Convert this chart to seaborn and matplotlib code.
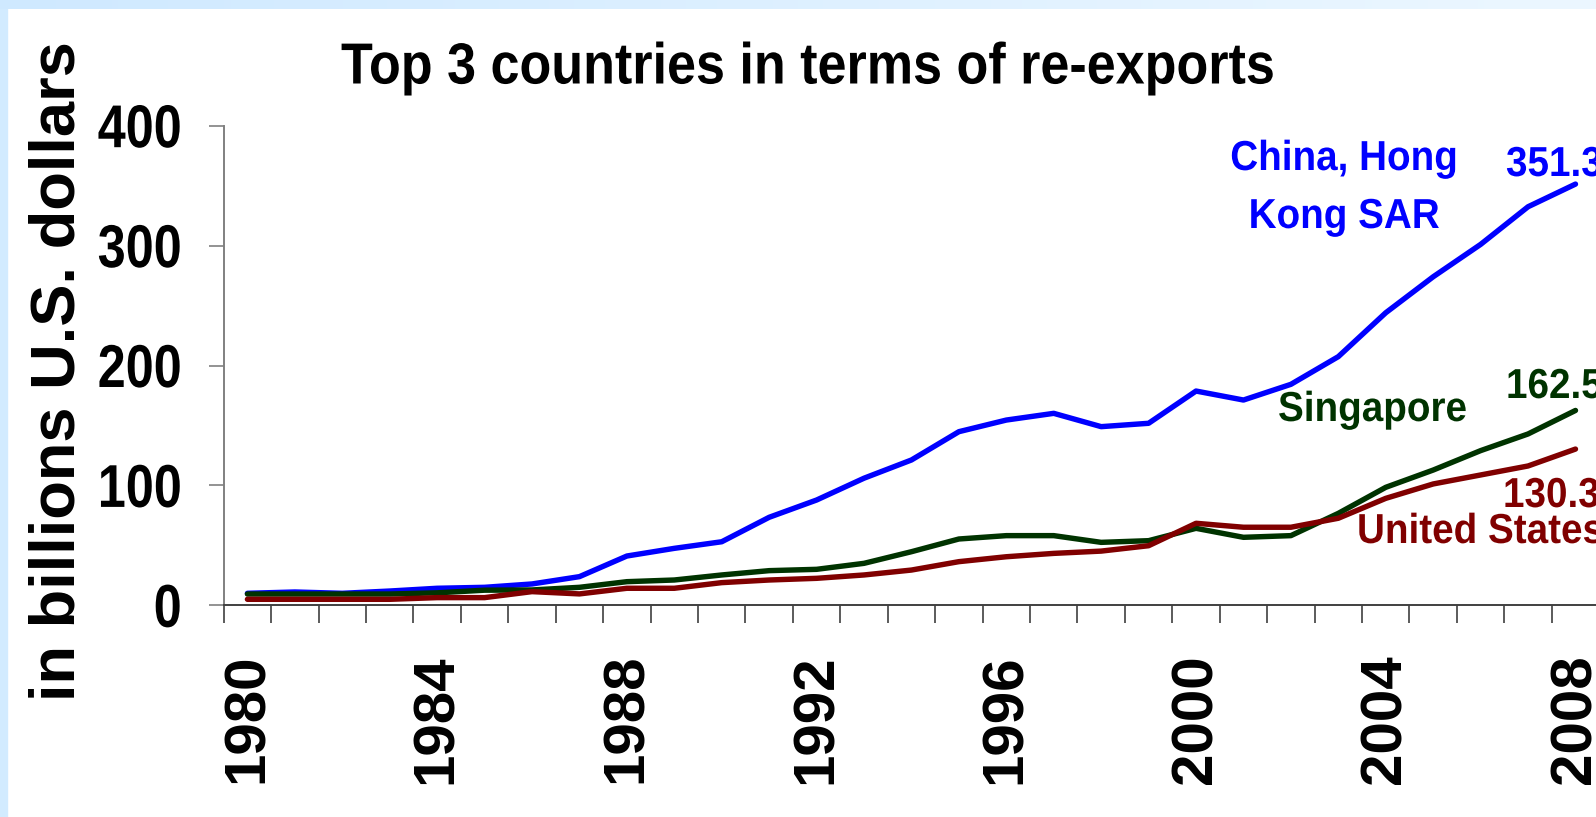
import numpy as np
import pandas as pd
import matplotlib
matplotlib.use("Agg")
import matplotlib.pyplot as plt
import seaborn as sns
from matplotlib.ticker import FixedLocator
from matplotlib.patches import Rectangle
from matplotlib.patheffects import AbstractPathEffect
from matplotlib.transforms import Affine2D

# ---------------- data ----------------
years = list(range(1980, 2009))
hong_kong = [10, 11.1, 10, 11.9, 14.2, 15, 17.8, 23.9, 41.1,
             47.5, 53, 73.4, 87.8, 106, 121.2, 144.8, 154.5, 160.1, 149,
             151.8, 178.7, 171.2, 184.3, 207.4, 244, 274, 301, 332.4, 351.3]
singapore = [9.4, 9.4, 9.4, 9.4, 10.4, 12.6, 12.8, 15, 19.7,
             21.1, 25.3, 28.9, 30, 35, 44.7, 55.3, 58.1, 58.1, 52.5,
             53.9, 64.2, 56.7, 58.1, 76.7, 98.4, 112.8, 129, 142.9, 162.5]
united_states = [5, 5, 5, 5, 6.4, 6.4, 11.4, 9.5, 14.2,
                 14.2, 18.9, 21.1, 22.5, 25.3, 29.4, 36.4, 40.5, 43.3, 45.2,
                 49.7, 68.4, 65.1, 65.1, 72.6, 89.2, 101.2, 108.7, 116.2, 130.3]
series_names = ["China, Hong Kong SAR", "Singapore", "United States"]
series_colors = ["#0000FF", "#003300", "#800000"]
y_ticks = [0, 100, 200, 300, 400]
x_label_years = [1980, 1984, 1988, 1992, 1996, 2000, 2004, 2008]
title = "Top 3 countries in terms of re-exports"
y_label = "in billions U.S. dollars"

df = pd.DataFrame({
    "year": years * 3,
    "value": hong_kong + singapore + united_states,
    "country": [series_names[0]] * len(years) + [series_names[1]] * len(years)
               + [series_names[2]] * len(years),
})

# ---------------- style ----------------
sns.set_theme(style="white")
plt.rcParams["font.family"] = ["Liberation Sans", "DejaVu Sans"]
plt.rcParams["font.weight"] = "bold"
FAM = ["Liberation Sans", "DejaVu Sans"]

W, H = 1596, 817
DPI = 100
fig = plt.figure(figsize=(W / DPI, H / DPI), dpi=DPI)
fig.patch.set_facecolor("white")


class HScale(AbstractPathEffect):
    """Condense glyphs horizontally about a fixed display x (narrow-font look)."""

    def __init__(self, sx, x0):
        super().__init__()
        self.sx, self.x0 = sx, x0

    def draw_path(self, renderer, gc, tpath, affine, rgbFace=None):
        t = affine + Affine2D().translate(-self.x0, 0).scale(self.sx, 1).translate(self.x0, 0)
        renderer.draw_path(gc, tpath, t, rgbFace)


def pt_from_cap(cap_px):
    # Liberation Sans cap height ~0.716 em
    return cap_px / 0.716 * 72 / DPI


# light-blue frame (left strip + top gradient strip)
fig.add_artist(Rectangle((0, 0), 7 / W, 1, transform=fig.transFigure,
                         color="#D2EBFF", zorder=0))
top_ax = fig.add_axes([0, 1 - 9 / H, 1, 9 / H], zorder=0)
c0 = np.array([0xCF, 0xE9, 0xFF]) / 255
c1 = np.array([0xEC, 0xF7, 0xFF]) / 255
grad = np.linspace(0, 1, 256)[None, :, None]
top_ax.imshow(c0 + (c1 - c0) * grad, aspect="auto", extent=[0, 1, 0, 1])
top_ax.axis("off")


def px(x):
    return x / W


def py(y_from_top):
    return (H - y_from_top) / H


ax_left, ax_right = 223.7, 1599.2
ax_bottom, ax_top = 605.3, 125.7
ax = fig.add_axes([px(ax_left), py(ax_bottom), (ax_right - ax_left) / W,
                   (ax_bottom - ax_top) / H])
ax.set_facecolor("none")

sns.lineplot(data=df, x="year", y="value", hue="country",
             hue_order=series_names,
             palette=dict(zip(series_names, series_colors)),
             linewidth=3.9, legend=False, ax=ax,
             solid_capstyle="round", solid_joinstyle="round", clip_on=False)

ax.set_xlim(1979.5, 2008.5)
ax.set_ylim(0, 400)
ax.set_xlabel("")
ax.set_ylabel("")
for s in ("top", "right"):
    ax.spines[s].set_visible(False)
ax.spines["left"].set_color("#808080")
ax.spines["left"].set_linewidth(1.4)
ax.spines["bottom"].set_color("#404040")
ax.spines["bottom"].set_linewidth(1.4)

renderer = fig.canvas.get_renderer()

# y ticks: condensed bold numbers, right edge at x=181.7 px
ytick_len_px = 15.5
ytick_right = 181.7
ax.set_yticks(y_ticks)
ax.set_yticklabels([str(v) for v in y_ticks])
ax.tick_params(axis="y", which="major", direction="out",
               length=ytick_len_px * 72 / DPI, width=1.2, color="#808080",
               pad=(ax_left - ytick_len_px - ytick_right) * 72 / DPI,
               labelsize=pt_from_cap(43.3), labelcolor="black", left=True)
ylabs = ax.get_yticklabels()
for lab in ylabs:
    lab.set_fontfamily(FAM)
    lab.set_fontweight("bold")
nat = [l for l in ylabs if l.get_text() == "200"][0].get_window_extent(renderer).width
sx_y = 84.0 / nat
for lab in ylabs:
    lab.set_path_effects([HScale(sx_y, ytick_right)])

# x ticks: category-boundary tick marks, labels every 4 years
ax.set_xticks(x_label_years)
ax.set_xticklabels([str(v) for v in x_label_years], rotation=90)
ax.xaxis.set_minor_locator(FixedLocator(np.arange(1979.5, 2009, 1.0)))
ax.tick_params(axis="x", which="major", length=0, pad=35, labelsize=42,
               labelcolor="black", bottom=True)
ax.tick_params(axis="x", which="minor", direction="out", length=13.3, width=1.2,
               color="#404040", bottom=True)
for lab in ax.get_xticklabels():
    lab.set_fontfamily(FAM)
    lab.set_fontweight("bold")
    lab.set_va("top")


def fit(t, target, use_height=False):
    bb = t.get_window_extent(renderer)
    cur = bb.height if use_height else bb.width
    t.set_fontsize(t.get_fontsize() * target / cur)


# title (condensed)
title_cx = 808
t_title = fig.text(px(title_cx), py(83.5), title, ha="center", va="baseline",
                   fontsize=pt_from_cap(41.5), fontweight="bold", family=FAM,
                   color="black")
sx_t = 934.0 / t_title.get_window_extent(renderer).width
t_title.set_path_effects([HScale(sx_t, title_cx)])

# y label
t_y = fig.text(px(75), py(371.5), y_label, rotation=90, rotation_mode="anchor",
               ha="center", va="baseline", fontsize=45, fontweight="bold",
               family=FAM, color="black")
fit(t_y, 661, use_height=True)

# series annotations (condensed)
ann_size = pt_from_cap(30)
probe = fig.text(0, 0, "Singapore", fontsize=ann_size, fontweight="bold", family=FAM)
sx_a = 189.0 / probe.get_window_extent(renderer).width
probe.remove()


def ann(x, y, s, color, ha="left"):
    t = fig.text(px(x), py(y), s, ha=ha, va="baseline", fontsize=ann_size,
                 fontweight="bold", family=FAM, color=color)
    t.set_path_effects([HScale(sx_a, x)])


ann(1344, 170, "China, Hong", series_colors[0], ha="center")
ann(1344, 228, "Kong SAR", series_colors[0], ha="center")
ann(1506, 176, f"{hong_kong[-1]:.1f}", series_colors[0])
ann(1278, 421, "Singapore", series_colors[1])
ann(1506, 398, f"{singapore[-1]:.1f}", series_colors[1])
ann(1503, 507, f"{united_states[-1]:.1f}", series_colors[2])
ann(1357, 543, "United States", series_colors[2])

fig.savefig("out.png", dpi=DPI, facecolor=fig.get_facecolor())
